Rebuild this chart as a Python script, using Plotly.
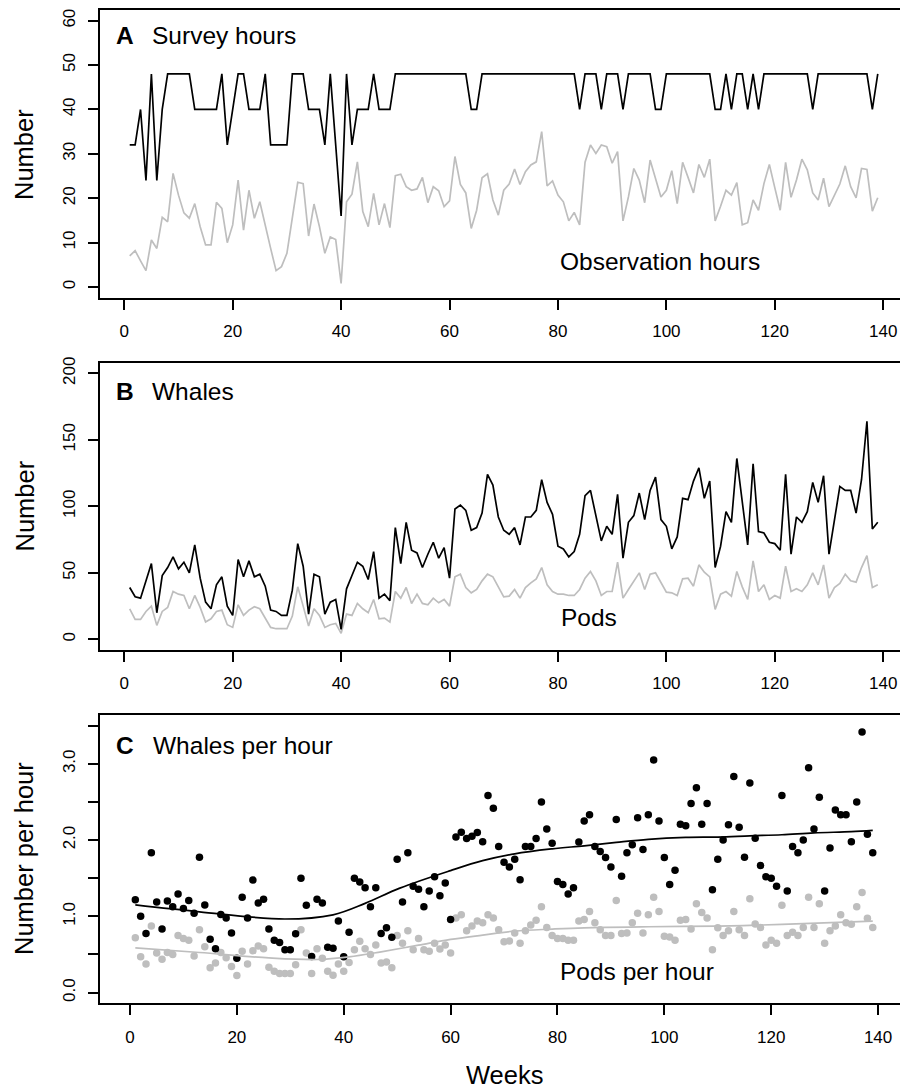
import plotly.graph_objects as go

# ---------------- data ----------------
weeks = list(range(1, 140))

survey_hours = [
    32, 32, 40, 24, 48, 24, 40, 48, 48, 48,
    48, 48, 40, 40, 40, 40, 40, 48, 32, 40,
    48, 48, 40, 40, 40, 48, 32, 32, 32, 32,
    48, 48, 48, 40, 40, 40, 32, 48, 32, 16,
    48, 32, 40, 40, 40, 48, 40, 40, 40, 48,
    48, 48, 48, 48, 48, 48, 48, 48, 48, 48,
    48, 48, 48, 40, 40, 48, 48, 48, 48, 48,
    48, 48, 48, 48, 48, 48, 48, 48, 48, 48,
    48, 48, 48, 40, 48, 48, 48, 40, 48, 48,
    48, 40, 48, 48, 48, 48, 48, 40, 40, 48,
    48, 48, 48, 48, 48, 48, 48, 48, 40, 40,
    48, 40, 48, 48, 40, 48, 40, 48, 48, 48,
    48, 48, 48, 48, 48, 48, 40, 48, 48, 48,
    48, 48, 48, 48, 48, 48, 48, 40, 48,
]

observation_hours = [
    7.0, 8.2, 5.9, 3.7, 10.6, 8.7, 15.7, 14.7, 25.6, 20.7,
    16.7, 15.5, 18.8, 13.6, 9.5, 9.5, 19.1, 17.7, 10.0, 14.0,
    24.1, 12.8, 21.8, 15.5, 19.2, 13.6, 8.7, 3.7, 4.6, 7.6,
    15.8, 23.6, 23.3, 11.5, 18.7, 13.6, 7.6, 11.3, 10.7, 0.8,
    19.2, 20.9, 28.2, 17.0, 13.6, 21.1, 14.0, 18.8, 13.4, 25.1,
    25.4, 22.6, 21.8, 22.1, 24.7, 19.0, 22.6, 21.7, 18.1, 19.4,
    29.4, 23.1, 21.2, 13.2, 17.3, 24.6, 25.5, 19.6, 16.2, 21.8,
    23.2, 26.6, 23.1, 26.0, 27.5, 28.2, 35.0, 22.8, 23.9, 20.7,
    19.2, 14.9, 16.8, 14.0, 28.1, 32.0, 30.1, 32.0, 31.6, 27.9,
    30.5, 14.9, 20.3, 26.7, 24.1, 19.0, 28.6, 24.5, 20.3, 21.8,
    26.2, 18.8, 28.1, 24.7, 21.2, 27.6, 24.7, 28.8, 14.9, 18.2,
    21.8, 20.7, 23.5, 14.0, 14.5, 19.6, 17.3, 23.3, 27.6, 22.4,
    17.3, 28.1, 20.2, 24.1, 28.8, 26.4, 21.2, 19.6, 24.5, 18.1,
    20.7, 23.2, 27.3, 22.6, 20.1, 26.7, 26.5, 17.1, 20.1,
]

whales = [
    39, 32, 31, 44, 57, 20, 48, 54, 62, 53,
    58, 50, 71, 46, 28, 23, 41, 47, 25, 18,
    60, 47, 59, 47, 49, 40, 22, 21, 18, 18,
    37, 72, 55, 19, 49, 47, 19, 28, 30, 7.5,
    38, 48, 58, 55, 45, 66, 31, 34, 29, 84,
    57, 88, 67, 65, 54, 64, 73, 61, 69, 46,
    98, 101, 97, 82, 84, 95, 124, 116, 92, 82,
    79, 84, 71, 92, 92, 97, 120, 103, 94, 70,
    68, 62, 66, 79, 108, 112, 92, 74, 85, 79,
    109, 61, 88, 93, 110, 90, 112, 122, 90, 85,
    68, 77, 106, 105, 119, 129, 106, 119, 54, 70,
    96, 88, 136, 104, 71, 132, 81, 80, 73, 72,
    67, 124, 64, 92, 88, 96, 118, 103, 123, 64,
    91, 115, 112, 112, 95, 120, 164, 83, 88,
]

pods = [
    23, 15, 15, 21, 25, 10.5, 21, 24, 36, 34,
    33, 23, 33, 24, 13, 15.5, 21, 22, 11, 9,
    26, 18, 22, 24.5, 23, 16, 9, 8, 8, 8,
    17.5, 39.5, 25, 10, 23, 18, 9, 11, 12, 4.5,
    19, 18, 27, 23, 20, 30, 15.5, 16, 13, 36,
    31, 39, 27, 34, 27, 26, 31, 27.5, 30, 25,
    47, 49, 39, 35, 37.5, 44, 49, 47, 39.5, 32,
    32.5, 37.5, 31, 39, 42.5, 45.5, 54, 41, 36, 34,
    34, 33, 33, 37.5, 46, 51, 44, 33, 36, 36,
    58, 31, 37.5, 44, 50, 37.5, 49, 50, 42.5, 35.5,
    35, 33, 45.5, 46, 40, 56, 50.5, 47, 22.5, 34,
    36, 32.5, 51, 39.5, 30, 59, 36, 41, 30, 33,
    31, 55, 36, 38, 36, 41, 50, 41, 56, 31,
    39, 42, 49, 44, 43, 54, 63, 39, 41,
]

# smooth trend curves in panel C, read at a few weeks
whales_trend_weeks = [1, 13, 29, 38, 44, 50.5, 60, 66, 72, 79, 85, 91, 97, 104, 110, 116, 122, 128, 135, 139]
whales_trend = [1.15, 1.06, 0.965, 1.02, 1.17, 1.37, 1.6, 1.73, 1.82, 1.885, 1.925, 1.97, 2.01, 2.035, 2.04, 2.056, 2.07, 2.095, 2.11, 2.127]
pods_trend_weeks = [1, 13, 26, 35, 41, 47, 54, 60, 66, 72, 79, 85, 97, 110, 122, 139]
pods_trend = [0.587, 0.526, 0.455, 0.434, 0.469, 0.535, 0.622, 0.697, 0.754, 0.807, 0.833, 0.85, 0.864, 0.872, 0.894, 0.938]

x_ticks = [0, 20, 40, 60, 80, 100, 120, 140]
ticks_a = [0, 10, 20, 30, 40, 50, 60]
ticks_b = [0, 50, 100, 150, 200]
ticks_c = [0, 0.5, 1, 1.5, 2, 2.5, 3, 3.5]
ticks_c_text = ["0.0", "", "1.0", "", "2.0", "", "3.0", ""]

whales_per_hour = [w / s for w, s in zip(whales, survey_hours)]
pods_per_hour = [p / s for p, s in zip(pods, survey_hours)]

# ---------------- figure ----------------
W, H = 900, 1088
BLACK = "#000000"
GREY = "#BEBEBE"
FONT = "Liberation Sans, Arial, Helvetica, sans-serif"


def px(x):
    return x / W


def py(y):
    return 1 - y / H


fig = go.Figure()

# Panel A
fig.add_trace(go.Scatter(x=weeks, y=observation_hours, mode="lines",
                         line=dict(color=GREY, width=1.7), xaxis="x", yaxis="y"))
fig.add_trace(go.Scatter(x=weeks, y=survey_hours, mode="lines",
                         line=dict(color=BLACK, width=1.7), xaxis="x", yaxis="y"))
# Panel B
fig.add_trace(go.Scatter(x=weeks, y=pods, mode="lines",
                         line=dict(color=GREY, width=1.7), xaxis="x2", yaxis="y2"))
fig.add_trace(go.Scatter(x=weeks, y=whales, mode="lines",
                         line=dict(color=BLACK, width=1.7), xaxis="x2", yaxis="y2"))
# Panel C
fig.add_trace(go.Scatter(x=weeks, y=pods_per_hour, mode="markers",
                         marker=dict(color=GREY, size=7.5, line=dict(width=0)),
                         xaxis="x3", yaxis="y3"))
fig.add_trace(go.Scatter(x=weeks, y=whales_per_hour, mode="markers",
                         marker=dict(color=BLACK, size=7.5, line=dict(width=0)),
                         xaxis="x3", yaxis="y3"))
fig.add_trace(go.Scatter(x=pods_trend_weeks, y=pods_trend, mode="lines",
                         line=dict(color=GREY, width=1.7, shape="spline", smoothing=1.0),
                         xaxis="x3", yaxis="y3"))
fig.add_trace(go.Scatter(x=whales_trend_weeks, y=whales_trend, mode="lines",
                         line=dict(color=BLACK, width=1.7, shape="spline", smoothing=1.0),
                         xaxis="x3", yaxis="y3"))

xdom = [px(100), 1.0]
common_x = dict(showline=True, mirror=True, linecolor=BLACK, linewidth=1.8,
                ticks="outside", ticklen=10, tickwidth=1.7, tickcolor=BLACK,
                tickvals=x_ticks, tickfont=dict(size=17, color=BLACK, family=FONT),
                showgrid=False, zeroline=False, automargin=False, domain=xdom,
                ticklabelstandoff=7)
common_y = dict(showline=True, mirror=False, linecolor=BLACK, linewidth=1.8,
                ticks="outside", ticklen=10, tickwidth=1.7, tickcolor=BLACK,
                tickangle=-90, tickfont=dict(size=17, color=BLACK, family=FONT),
                showgrid=False, zeroline=False, automargin=False,
                ticklabelstandoff=6)

fig.update_layout(
    width=W, height=H,
    margin=dict(l=0, r=0, t=0, b=0),
    paper_bgcolor="white", plot_bgcolor="white",
    showlegend=False,
    font=dict(family=FONT, color=BLACK),
    xaxis=dict(common_x, range=[-4.48, 143.1], anchor="y"),
    yaxis=dict(common_y, range=[-2.4, 62.4], tickvals=ticks_a,
               domain=[py(297.7), py(10)], anchor="x"),
    xaxis2=dict(common_x, range=[-4.48, 143.1], anchor="y2"),
    yaxis2=dict(common_y, range=[-8, 208], tickvals=ticks_b,
                domain=[py(650), py(362.7)], anchor="x2"),
    xaxis3=dict(common_x, range=[-5.61, 144.1], anchor="y3"),
    yaxis3=dict(common_y, range=[-0.14, 3.64], tickvals=ticks_c, ticktext=ticks_c_text,
                domain=[py(1003.3), py(715)], anchor="x3"),
)

LAB = 24.5
TIT = 25.5
annotations = []


def label(text, x, y, size=LAB, bold=False, angle=0, xanchor="left", height=None):
    a = dict(
        text=("<b>%s</b>" % text) if bold else text,
        x=px(x), y=py(y), xref="paper", yref="paper",
        xanchor=xanchor, yanchor="middle", showarrow=False,
        textangle=angle, font=dict(size=size, color=BLACK, family=FONT))
    if height is not None:
        a["height"] = height
    annotations.append(a)


label("A", 114, 35, bold=True)
label("Survey hours", 149.5, 35)
label("Observation hours", 558, 261)
label("B", 114, 391.5, bold=True)
label("Whales", 149.5, 391.5)
label("Pods", 559, 617.5)
label("C", 114, 745, bold=True)
label("Whales per hour", 150.5, 745)
label("Pods per hour", 558, 971.5)

label("Number", 24, 155, size=TIT, angle=-90, xanchor="center")
label("Number", 24, 506.5, size=TIT, angle=-90, xanchor="center")
label("Number per hour", 24, 859, size=TIT, angle=-90, xanchor="center")
label("Weeks", 504, 1075, size=TIT, xanchor="center", height=24)

fig.update_layout(annotations=annotations)

fig.write_html(
    "out.html",
    config={"displayModeBar": False},
    post_script="document.body.style.margin='0px';"
                "document.body.style.padding='0px';"
                "document.body.style.overflow='hidden';",
)
